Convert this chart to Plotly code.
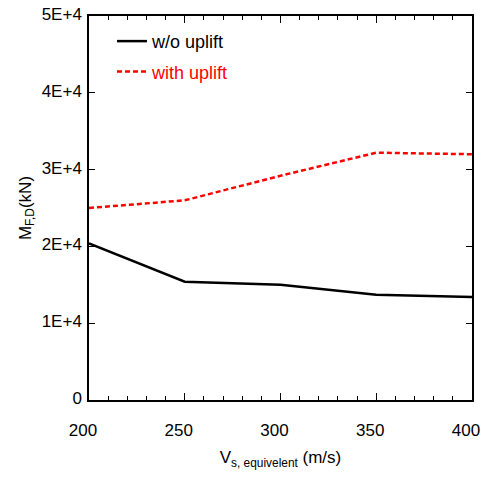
import plotly.graph_objects as go

vs = [200, 250, 300, 350, 400]
wo_uplift = [20400, 15400, 15000, 13700, 13400]
with_uplift = [25000, 26000, 29200, 32200, 32000]
y_tickvals = [0, 10000, 20000, 30000, 40000, 50000]
y_ticktext = ["0", "1E+4", "2E+4", "3E+4", "4E+4", "5E+4"]
x_tickvals = [200, 250, 300, 350, 400]

fig = go.Figure()
fig.add_trace(go.Scatter(x=vs, y=wo_uplift, mode="lines", name="w/o uplift",
                         legendgroup="a",
                         line=dict(color="black", width=2.5)))
fig.add_trace(go.Scatter(x=vs, y=with_uplift, mode="lines",
                         name='<span style="color:red">with uplift</span>',
                         legendgroup="b",
                         line=dict(color="red", width=2.5, dash="5px,3px")))

font = "Liberation Sans, Arial, sans-serif"
fig.update_layout(
    width=481, height=478,
    margin=dict(l=89, r=9, t=16, b=78),
    plot_bgcolor="white", paper_bgcolor="white",
    font=dict(family=font, size=17, color="black"),
    showlegend=True,
    legend=dict(x=0.06, y=0.982, xanchor="left", yanchor="top",
                bgcolor="rgba(0,0,0,0)", font=dict(size=18),
                tracegroupgap=4),
    xaxis=dict(range=[200, 400], tickvals=x_tickvals, ticks="inside", ticklen=7,
               tickwidth=1, tickcolor="black", showline=True, linecolor="black",
               linewidth=1.5, mirror="ticks", showgrid=False, zeroline=False,
               ticklabelshift=-6, ticklabelstandoff=14, ticklabeloverflow="allow",
               automargin=False,
               minor=dict(dtick=10, ticks="inside", ticklen=4, tickcolor="black"),
               title=dict(text="V<sub>s, equivelent</sub> (m/s)", font=dict(size=17), standoff=12)),
    yaxis=dict(range=[0, 50000], tickvals=y_tickvals, ticktext=y_ticktext,
               ticks="inside", ticklen=6, tickwidth=1, tickcolor="black",
               showline=True, linecolor="black", linewidth=1.5, mirror="ticks",
               showgrid=False, zeroline=False, ticklabelshift=-2, ticklabelstandoff=2,
               automargin=False,
               title=dict(text="M<sub>F,D</sub>(kN)", font=dict(size=17), standoff=6)),
)
fig.write_html("out.html")
